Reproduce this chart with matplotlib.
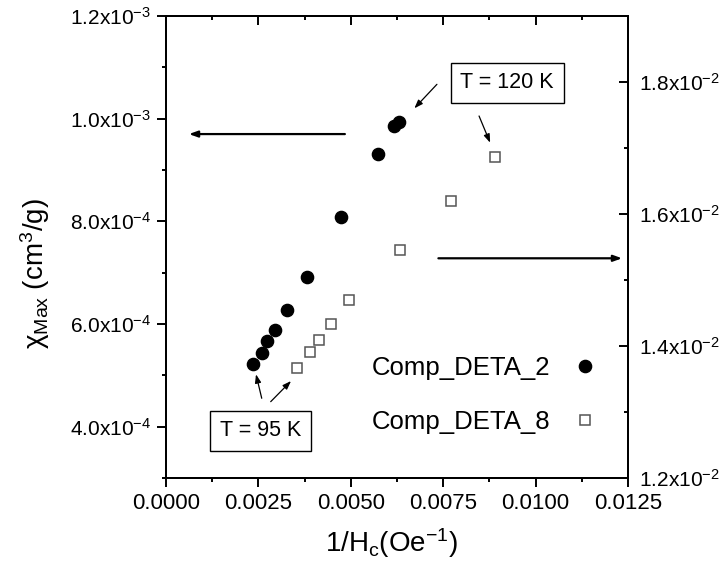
import matplotlib
matplotlib.use("Agg")
import matplotlib.pyplot as plt
from matplotlib.lines import Line2D

plt.rcParams['font.family'] = ['Liberation Sans', 'DejaVu Sans']
plt.rcParams['mathtext.fontset'] = 'custom'
plt.rcParams['mathtext.rm'] = 'Liberation Sans'
plt.rcParams['mathtext.it'] = 'Liberation Sans:italic'
plt.rcParams['mathtext.bf'] = 'Liberation Sans:bold'

# Comp_DETA_2 (left axis, filled circles)
h_inv_2 = [0.00236, 0.00259, 0.00274, 0.00295, 0.00328, 0.00381, 0.00473, 0.00573, 0.00617, 0.00631]
chi_2 = [5.23e-4, 5.43e-4, 5.66e-4, 5.88e-4, 6.27e-4, 6.92e-4, 8.09e-4, 9.32e-4, 9.86e-4, 9.94e-4]

# Comp_DETA_8 (right axis, open squares)
h_inv_8 = [0.00354, 0.00390, 0.00415, 0.00447, 0.00496, 0.00634, 0.00770, 0.00890]
chi_8 = [1.366e-2, 1.391e-2, 1.409e-2, 1.434e-2, 1.470e-2, 1.545e-2, 1.620e-2, 1.687e-2]

x_ticks = [0.0, 0.0025, 0.005, 0.0075, 0.01, 0.0125]
x_labels = ['0.0000', '0.0025', '0.0050', '0.0075', '0.0100', '0.0125']
x_minor = [0.00125, 0.00375, 0.00625, 0.00875, 0.01125]

left_ticks = [4e-4, 6e-4, 8e-4, 1e-3, 1.2e-3]
left_labels = ['4.0x10$^{-4}$', '6.0x10$^{-4}$', '8.0x10$^{-4}$', '1.0x10$^{-3}$', '1.2x10$^{-3}$']
left_minor = [3e-4, 5e-4, 7e-4, 9e-4, 1.1e-3]

right_ticks = [1.2e-2, 1.4e-2, 1.6e-2, 1.8e-2]
right_labels = ['1.2x10$^{-2}$', '1.4x10$^{-2}$', '1.6x10$^{-2}$', '1.8x10$^{-2}$']
right_minor = [1.3e-2, 1.5e-2, 1.7e-2, 1.9e-2]

fig = plt.figure(figsize=(7.2, 5.72), dpi=100)
ax = fig.add_axes([166 / 720, 94 / 572, 462 / 720, 462 / 572])
ax2 = ax.twinx()

ax.plot(h_inv_2, chi_2, 'o', color='black', markersize=8.8, label='Comp_DETA_2', zorder=3)
ax2.plot(h_inv_8, chi_8, 's', markerfacecolor='white', markeredgecolor='#555555',
         markeredgewidth=1.1, markersize=7.6, label='Comp_DETA_8', zorder=3)

ax.set_xlim(0, 0.0125)
ax.set_ylim(3e-4, 1.2e-3)
ax2.set_ylim(1.2e-2, 1.9e-2)

ax.set_xticks(x_ticks, x_labels)
ax.set_xticks(x_minor, minor=True)
ax.set_yticks(left_ticks, left_labels)
ax.set_yticks(left_minor, minor=True)
ax2.set_yticks(right_ticks, right_labels)
ax2.set_yticks(right_minor, minor=True)

for a in (ax, ax2):
    for s in a.spines.values():
        s.set_linewidth(1.4)

ax.tick_params(axis='both', which='major', direction='out', length=6.5, width=1.4,
               pad=4.5, top=False, right=False)
ax.tick_params(axis='both', which='minor', direction='out', length=3.2, width=1.4,
               top=False, right=False)
ax.tick_params(axis='x', labelsize=16)
ax.tick_params(axis='y', labelsize=15)
ax2.tick_params(axis='y', which='major', direction='in', length=6.5, width=1.4,
                labelsize=15, pad=8)
ax2.tick_params(axis='y', which='minor', direction='in', length=3.2, width=1.4)

top = ax.secondary_xaxis('top')
top.set_xticks(x_ticks, [''] * len(x_ticks))
top.set_xticks(x_minor, minor=True)
top.tick_params(which='major', direction='in', length=6.5, width=1.4)
top.tick_params(which='minor', direction='in', length=3.2, width=1.4)
top.spines['top'].set_linewidth(1.4)

ax.set_xlabel('1/H$_\\mathrm{c}$(Oe$^{-1}$)', fontsize=20)
ax.set_ylabel('χ$_\\mathrm{Max}$ (cm$^{3}$/g)', fontsize=20)
ax.xaxis.set_label_coords(0.487, -0.141)
ax.xaxis.label.set_va('center')
ax.yaxis.set_label_coords(-0.2835, 0.4416)
ax.yaxis.label.set_va('center')

# big arrows pointing to the axes
big = dict(arrowstyle='-|>,head_length=0.5,head_width=0.18', color='black', lw=1.6,
           shrinkA=0, shrinkB=0)
ax.annotate('', xy=(0.00062, 9.70e-4), xytext=(0.00484, 9.70e-4), arrowprops=big)
ax.annotate('', xy=(0.01234, 7.28e-4), xytext=(0.00737, 7.28e-4), arrowprops=big)

# temperature labels with small arrows
small = dict(arrowstyle='-|>,head_length=0.5,head_width=0.18', color='black', lw=0.9,
             shrinkA=0, shrinkB=0)
box = dict(boxstyle='square,pad=0.45', facecolor='white', edgecolor='black', linewidth=1.0)
ax.text(0.00923, 1.0695e-3, 'T = 120 K', fontsize=15.5, ha='center', va='center', bbox=box)
ax.annotate('', xy=(0.00672, 1.0202e-3), xytext=(0.00733, 1.0669e-3), arrowprops=small)
ax.annotate('', xy=(0.00877, 9.532e-4), xytext=(0.00847, 1.0052e-3), arrowprops=small)

ax.text(0.002557, 3.916e-4, 'T = 95 K', fontsize=15.5, ha='center', va='center', bbox=box)
ax.annotate('', xy=(0.002435, 5.02e-4), xytext=(0.00259, 4.553e-4), arrowprops=small)
ax.annotate('', xy=(0.003383, 4.889e-4), xytext=(0.002833, 4.487e-4), arrowprops=small)

handles = [Line2D([], [], marker='o', ls='', color='black', markersize=8.8),
           Line2D([], [], marker='s', ls='', markerfacecolor='white', markeredgecolor='#555555',
                  markeredgewidth=1.1, markersize=7.6)]
ax2.legend(handles, ['Comp_DETA_2', 'Comp_DETA_8'], loc='center',
           bbox_to_anchor=(484 / 720, 1 - 395 / 572), bbox_transform=fig.transFigure,
           frameon=False, markerfirst=False, fontsize=18.5, handlelength=0.9,
           handletextpad=0.9, labelspacing=1.15)

fig.savefig('out.png', dpi=100)
